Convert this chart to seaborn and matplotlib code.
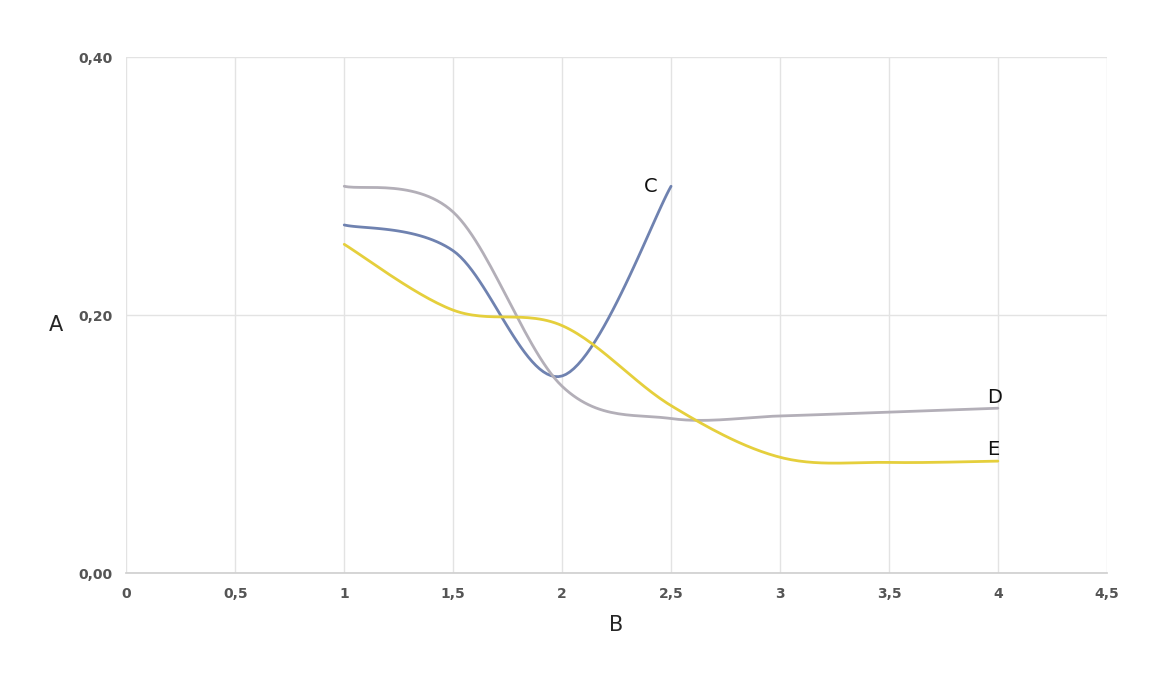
import numpy as np
import pandas as pd
import seaborn as sns
import matplotlib.pyplot as plt

# datos
x_c = [1, 1.5, 2, 2.5]
y_c = [0.270, 0.250, 0.153, 0.300]
x_d = [1, 1.5, 2, 2.5, 3, 3.5, 4]
y_d = [0.300, 0.280, 0.145, 0.120, 0.122, 0.125, 0.128]
x_e = [1, 1.5, 2, 2.5, 3, 3.5, 4]
y_e = [0.255, 0.204, 0.192, 0.130, 0.090, 0.086, 0.087]


def suavizar(xs, ys, n=30):
    # Catmull-Rom como la linea suavizada de Excel
    p = np.column_stack([xs, ys])
    p = np.vstack([p[0], p, p[-1]])
    out = []
    t = np.linspace(0, 1, n)[:, None]
    for i in range(1, len(p) - 2):
        p0, p1, p2, p3 = p[i - 1], p[i], p[i + 1], p[i + 2]
        seg = 0.5 * ((2 * p1) + (-p0 + p2) * t + (2 * p0 - 5 * p1 + 4 * p2 - p3) * t**2
                     + (-p0 + 3 * p1 - 3 * p2 + p3) * t**3)
        out.append(seg)
    out = np.vstack(out)
    return pd.DataFrame({"x": out[:, 0], "y": out[:, 1]})


sns.set_theme(style="white")
fig, ax = plt.subplots(figsize=(11.7, 6.73), dpi=100)
fig.subplots_adjust(left=0.108, right=0.946, top=0.915, bottom=0.148)

series = [("C", x_c, y_c, "#6f82b0"), ("D", x_d, y_d, "#b3afb8"), ("E", x_e, y_e, "#e5cf3c")]
for nombre, xs, ys, col in series:
    df = suavizar(xs, ys)
    sns.lineplot(data=df, x="x", y="y", ax=ax, color=col, lw=2, sort=False)

ax.text(2.44, 0.300, "C", fontsize=14, ha="right", va="center", color="#111111")
ax.text(3.95, 0.136, "D", fontsize=14, va="center", color="#111111")
ax.text(3.95, 0.096, "E", fontsize=14, va="center", color="#111111")

ax.set_xlim(0, 4.5)
ax.set_ylim(0, 0.4)
ax.set_xticks(np.arange(0, 4.51, 0.5))
ax.set_xticklabels(["0", "0,5", "1", "1,5", "2", "2,5", "3", "3,5", "4", "4,5"])
ax.set_yticks([0, 0.2, 0.4])
ax.set_yticklabels(["0,00", "0,20", "0,40"])
ax.tick_params(labelsize=10, colors="#555555", length=0, pad=10)
for lab in ax.get_xticklabels() + ax.get_yticklabels():
    lab.set_fontweight("bold")
ax.grid(True, color="#e3e3e3", lw=1)
for s in ["top", "right", "left"]:
    ax.spines[s].set_visible(False)
ax.spines["bottom"].set_color("#d0d0d0")
ax.set_xlabel("B", fontsize=15, labelpad=10)
ax.set_ylabel("A", fontsize=15, rotation=0, labelpad=16, va="top")

fig.savefig("out.png")
